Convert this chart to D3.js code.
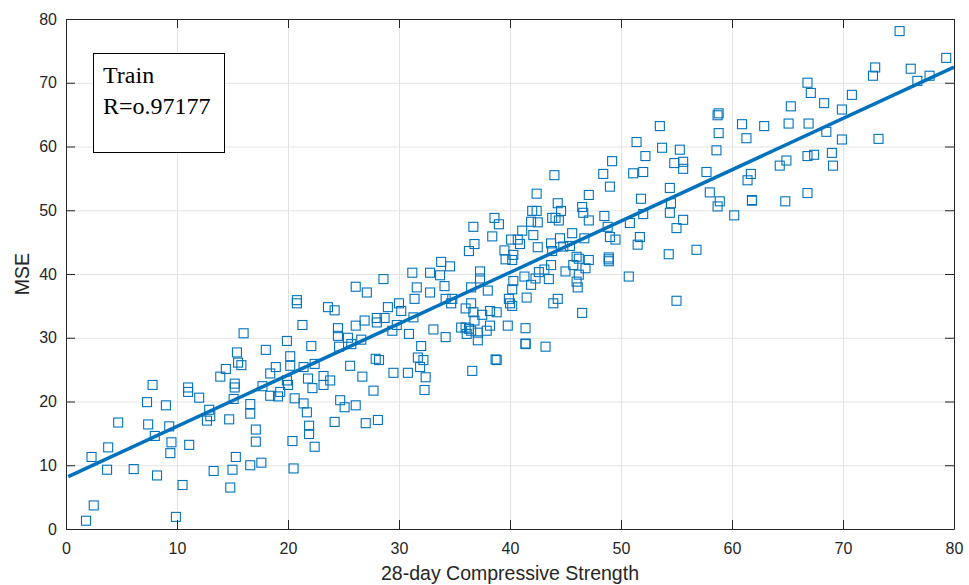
<!DOCTYPE html>
<html>
<head>
<meta charset="utf-8">
<script src="https://cdn.jsdelivr.net/npm/d3@7"></script>
<style>
  body { margin: 0; background: #fff; }
  .tick text { font-family: "Liberation Sans", Arial, sans-serif; font-size: 16px; fill: #262626; }
  .axis path, .axis line { stroke: #262626; }
  .grid line { stroke: #e3e3e3; }
  .grid path { display: none; }
</style>
</head>
<body>
<script>
const width = 969;
const height = 585;
const margin = {top: 19, right: 15, bottom: 56, left: 66};

// data: 28-day compressive strength vs MSE (train set)
const strength = [1.8,2.5,2.3,3.8,3.7,4.7,6.1,7.3,7.8,7.4,8.0,8.2,9.0,9.3,9.5,9.4,9.9,10.5,11.1,11.0,11.0,12.0,12.9,13.0,12.7,13.3,14.7,15.0,14.8,15.3,13.9,14.4,15.2,15.2,15.1,16.0,15.4,15.5,15.8,16.6,16.6,17.1,17.1,16.6,17.6,18.0,17.7,18.4,18.9,18.4,19.1,
  19.3,19.9,20.2,20.2,19.9,20.0,20.6,20.4,20.5,20.8,20.8,21.3,21.4,22.4,22.1,21.8,22.2,23.2,23.2,23.8,21.4,21.7,24.7,25.1,26.1,23.6,24.2,24.6,24.5,24.5,25.4,25.7,25.6,26.1,26.1,26.6,26.7,26.9,27.1,27.7,28.0,28.0,27.9,28.2,28.6,28.7,29.0,29.4,29.5,29.8,30.0,30.2,30.8,30.9,31.2,31.3,31.4,31.6,31.7,21.9,21.9,22.4,24.2,27.0,28.1,
  38.6,39.0,36.7,38.4,36.8,36.3,39.5,40.3,40.2,39.6,40.1,40.7,40.9,33.8,34.6,32.8,33.7,37.3,37.3,40.3,40.2,38.0,36.5,34.1,32.8,34.2,34.8,34.7,36.5,36.0,36.7,37.5,36.8,38.2,38.8,39.9,40.0,40.2,33.1,34.2,35.6,36.0,36.3,36.5,36.1,37.1,37.1,37.9,38.2,39.8,32.0,32.2,31.9,32.4,32.3,36.6,38.7,38.8,
  51.4,49.2,51.1,44.0,48.4,49.0,42.4,47.1,44.3,46.5,46.6,44.6,42.0,42.4,48.5,43.8,44.1,44.4,41.9,42.5,47.1,50.8,48.8,41.1,42.1,45.6,44.5,46.7,42.5,43.7,44.8,45.4,49.0,49.5,43.8,46.0,46.2,47.1,48.9,48.9,48.9,43.7,45.7,46.8,50.7,41.3,42.3,42.6,43.1,43.5,45.0,46.2,46.0,46.1,41.9,41.5,43.9,44.3,46.5,41.4,41.4,41.4,43.2,51.7,51.5,
  75.1,79.3,72.9,72.7,76.1,76.7,77.8,66.8,67.1,70.8,68.3,65.3,69.9,58.8,58.7,53.5,60.9,62.9,65.1,66.9,58.8,61.3,68.5,69.9,73.2,53.7,55.3,58.6,52.2,54.8,55.6,55.6,52.0,57.7,64.9,64.3,66.8,67.4,69.0,69.1,61.7,61.4,54.4,51.8,58.0,54.5,58.9,58.7,61.8,61.8,64.8,66.8,52.0,54.4,55.6,55.0,60.2,54.3,56.8,55.0];

const mse = [1.3,3.7,11.3,12.8,9.3,16.7,9.4,19.9,22.6,16.4,14.6,8.4,19.4,16.1,13.6,11.9,1.9,6.9,13.2,22.2,21.5,20.6,18.7,17.7,17.0,9.1,17.2,9.3,6.5,11.3,23.9,25.1,22.8,22.2,20.4,30.7,27.7,26.1,25.7,19.6,18.1,15.6,13.7,10.0,10.4,28.1,22.4,24.4,25.4,20.9,20.8,
  21.5,29.5,27.1,25.6,23.3,22.6,20.5,13.8,9.5,35.9,35.4,32.0,25.4,25.9,28.7,23.6,22.1,24.0,22.6,23.3,19.7,18.3,20.2,19.1,19.4,34.8,34.3,28.6,31.5,30.3,30.0,29.0,25.6,31.9,38.0,29.7,23.9,32.7,37.1,21.7,33.1,32.4,26.7,26.5,39.2,33.1,34.8,31.1,24.5,32.0,35.4,34.2,24.5,30.6,40.2,33.2,36.1,37.9,26.9,16.2,14.9,12.9,16.8,16.6,17.1,
  48.8,47.8,47.4,45.9,44.7,43.6,43.7,43.0,42.2,42.3,45.4,45.4,44.7,41.9,41.2,40.2,39.8,40.4,39.3,38.9,37.6,37.4,37.9,38.1,37.1,36.1,36.1,35.4,35.4,34.6,34.0,33.6,32.7,34.2,34.0,36.1,35.4,35.0,31.3,30.1,31.6,31.6,31.4,31.1,30.6,30.8,29.6,31.1,31.9,31.9,28.7,26.5,25.4,23.8,21.8,24.8,26.6,26.5,
  60.7,57.7,55.8,55.5,55.7,53.7,52.6,52.4,51.1,50.5,49.6,49.9,49.9,49.9,49.1,48.8,48.8,48.4,48.2,48.1,48.4,48.0,47.4,46.8,46.1,46.4,45.6,45.6,44.2,44.8,44.3,44.4,45.8,45.4,43.6,42.7,42.4,42.2,42.6,42.3,42.0,41.4,41.4,40.9,39.6,39.6,39.3,40.3,40.7,39.2,40.4,39.9,38.8,37.9,38.3,36.3,35.4,36.1,33.9,31.5,29.0,29.1,28.6,45.8,44.6,
  78.1,73.9,72.4,71.1,72.2,70.3,71.1,70.0,68.4,68.1,66.8,66.3,65.8,65.2,64.9,63.2,63.5,63.2,63.6,63.6,62.1,61.3,62.3,61.1,61.2,59.8,59.5,59.4,58.5,57.4,57.6,56.5,56.0,56.0,57.8,57.0,58.5,58.7,59.0,57.0,55.7,54.7,53.5,51.8,52.8,51.1,51.4,50.6,51.5,51.6,51.4,52.7,49.4,49.6,48.5,47.2,49.2,43.1,43.8,35.8];

// fitted line
const fitIntercept = 8.05;
const fitSlope = 0.805;
const fitRange = [0.2, 80];

const xTicks = [0,10,20,30,40,50,60,70,80];
const yTicks = [0,10,20,30,40,50,60,70,80];
const boxLines = ["Train", "R=o.97177"];

const data = strength.map(function(d, i) { return {x: d, y: mse[i]}; });
const lineData = fitRange.map(function(d) { return {x: d, y: fitIntercept + fitSlope * d}; });

const svg = d3.select("body").append("svg")
    .attr("width", width)
    .attr("height", height);

const innerW = width - margin.left - margin.right;
const innerH = height - margin.top - margin.bottom;

const xScale = d3.scaleLinear().domain([0, 80]).range([0, innerW]);
const yScale = d3.scaleLinear().domain([0, 80]).range([innerH, 0]);

const g = svg.append("g").attr("transform", "translate(" + margin.left + "," + margin.top + ")");

// grid
g.append("g").attr("class", "grid")
    .attr("transform", "translate(0," + innerH + ")")
    .call(d3.axisBottom(xScale).tickValues(xTicks.slice(1, -1)).tickSize(-innerH).tickFormat(""));
g.append("g").attr("class", "grid")
    .call(d3.axisLeft(yScale).tickValues(yTicks.slice(1, -1)).tickSize(-innerW).tickFormat(""));

// points
g.selectAll("rect.pt").data(data)
    .enter().append("rect")
    .attr("class", "pt")
    .attr("x", function(d) { return xScale(d.x) - 4.5; })
    .attr("y", function(d) { return yScale(d.y) - 4.5; })
    .attr("width", 9)
    .attr("height", 9)
    .attr("fill", "none")
    .attr("stroke", "#0072BD")
    .attr("stroke-width", 1.1);

// fit line
const line = d3.line()
    .x(function(d) { return xScale(d.x); })
    .y(function(d) { return yScale(d.y); });
g.append("path").datum(lineData)
    .attr("d", line)
    .attr("fill", "none")
    .attr("stroke", "#0072BD")
    .attr("stroke-width", 3.5);

// axes (ticks inside, box on)
g.append("g").attr("class", "axis")
    .attr("transform", "translate(0," + innerH + ")")
    .call(d3.axisBottom(xScale).tickValues(xTicks).tickSizeInner(-9).tickSizeOuter(0).tickPadding(14));
g.append("g").attr("class", "axis")
    .call(d3.axisLeft(yScale).tickValues(yTicks).tickSizeInner(-9).tickSizeOuter(0).tickPadding(9));
g.append("g").attr("class", "axis")
    .call(d3.axisTop(xScale).tickValues(xTicks).tickSizeInner(-9).tickSizeOuter(0).tickFormat(""));
g.append("g").attr("class", "axis")
    .attr("transform", "translate(" + innerW + ",0)")
    .call(d3.axisRight(yScale).tickValues(yTicks).tickSizeInner(-9).tickSizeOuter(0).tickFormat(""));

// axis titles
svg.append("text")
    .attr("x", margin.left + innerW / 2)
    .attr("y", 580)
    .attr("text-anchor", "middle")
    .attr("font-family", "Liberation Sans, Arial, sans-serif")
    .attr("font-size", 19.5)
    .attr("fill", "#262626")
    .text("28-day Compressive Strength");

svg.append("text")
    .attr("transform", "translate(29," + (margin.top + innerH / 2) + ") rotate(-90)")
    .attr("text-anchor", "middle")
    .attr("font-family", "Liberation Sans, Arial, sans-serif")
    .attr("font-size", 19.5)
    .attr("fill", "#262626")
    .text("MSE");

// annotation box
svg.append("rect")
    .attr("x", 93.5).attr("y", 53.5)
    .attr("width", 131).attr("height", 99)
    .attr("fill", "#fff")
    .attr("stroke", "#000")
    .attr("stroke-width", 1);

svg.selectAll(".boxText").data(boxLines)
    .enter().append("text")
    .attr("x", 103)
    .attr("y", function(d, i) { return 83 + i * 31; })
    .attr("font-family", "Liberation Serif, Times New Roman, serif")
    .attr("font-size", 24)
    .attr("fill", "#000")
    .text(function(d) { return d; });
</script>
</body>
</html>
